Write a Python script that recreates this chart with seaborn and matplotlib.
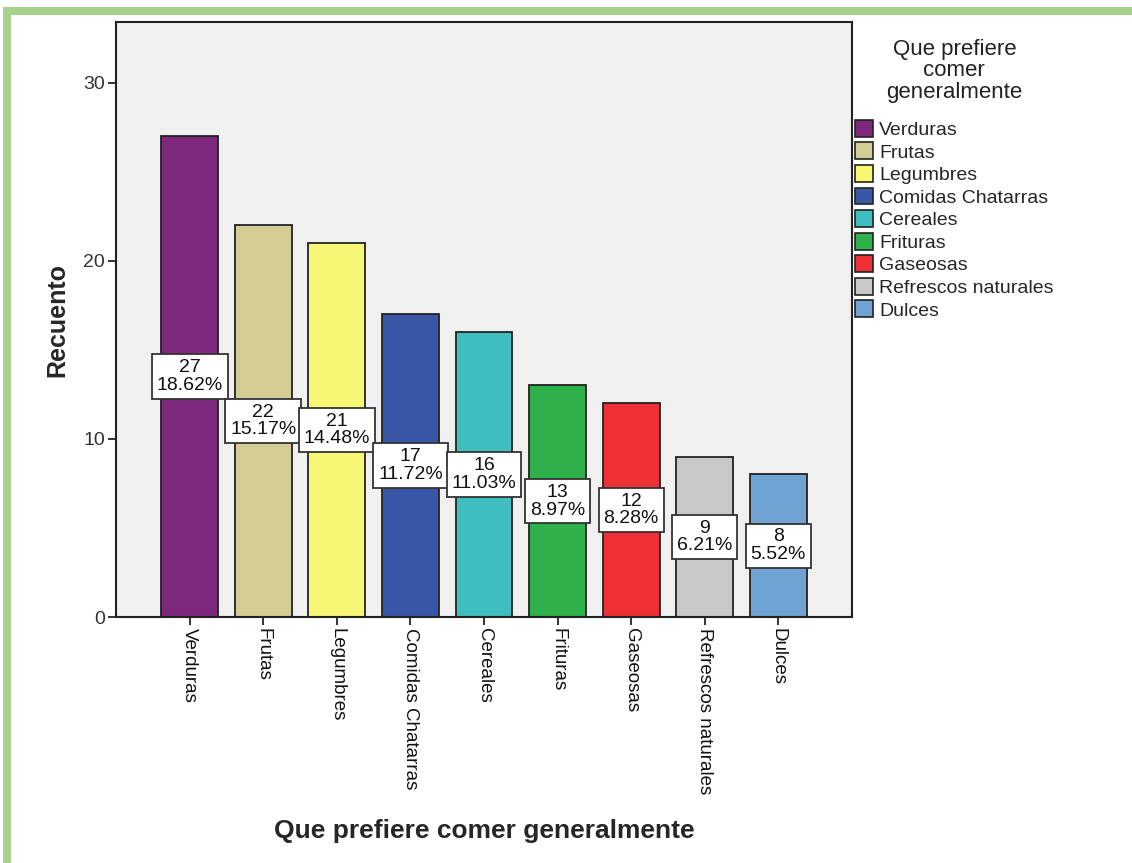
import matplotlib
matplotlib.use("Agg")
import matplotlib.pyplot as plt
from matplotlib.patches import Rectangle
import seaborn as sns
import pandas as pd

# Food preference counts
categories = ["Verduras", "Frutas", "Legumbres", "Comidas Chatarras", "Cereales",
              "Frituras", "Gaseosas", "Refrescos naturales", "Dulces"]
counts = [27, 22, 21, 17, 16, 13, 12, 9, 8]
colors = ["#7d287c", "#d3cd95", "#f8f775", "#3a56a7", "#3fbdc1",
          "#2eb04b", "#ee2f36", "#c8c8c8", "#6fa3d4"]
y_ticks = [0, 10, 20, 30]

df = pd.DataFrame({"categoria": categories, "recuento": counts})
total = sum(counts)
percents = [100.0 * c / total for c in counts]

sns.set_theme(style="white")
plt.rcParams["font.family"] = ["Liberation Sans", "DejaVu Sans"]

W, H = 1132, 863
fig = plt.figure(figsize=(W / 100, H / 100), dpi=100)
fig.patch.set_facecolor("white")

# plot box in pixel terms
L, R, T, B = 116, 852, 22, 617
ax = fig.add_axes([L / W, 1 - B / H, (R - L) / W, (B - T) / H])
ax.set_facecolor("#f0f0f0")

sns.barplot(data=df, x="categoria", y="recuento", hue="categoria",
            palette=colors, width=0.77, edgecolor="#222222", linewidth=1.3,
            legend=True, ax=ax, saturation=1)

ax.set_xlim(-1, len(categories))
ax.set_ylim(0, 33.4)
ax.set_yticks(y_ticks)
ax.set_yticklabels([str(t) for t in y_ticks], fontsize=14, color="#333333")

ax.set_xticks(range(len(categories)))
ax.set_xticklabels(categories, rotation=270, fontsize=13.5, color="#111111",
                   ha="center", va="top")

ax.tick_params(axis="both", which="major", direction="out", length=6, width=1.3,
               color="#222222", bottom=True, left=True, pad=2)

for s in ax.spines.values():
    s.set_color("#222222")
    s.set_linewidth(1.5)
    s.set_visible(True)

ax.set_ylabel("Recuento", fontsize=18, fontweight="bold", labelpad=10)
ax.set_xlabel("Que prefiere comer generalmente", fontsize=19, fontweight="bold",
              labelpad=18)

# value + percent boxes at mid-height of each bar
for i, (c, p) in enumerate(zip(counts, percents)):
    ax.text(i, c / 2, f"{c}\n{p:.2f}%", ha="center", va="center", fontsize=14,
            color="#111111", linespacing=1.05,
            bbox=dict(boxstyle="square,pad=0.25", fc="white", ec="#333333", lw=1.3),
            zorder=5)

handles, labels = ax.get_legend_handles_labels()
if ax.get_legend() is not None:
    ax.get_legend().remove()
leg = ax.legend(handles, labels, title="Que prefiere\ncomer\ngeneralmente",
                loc="upper left", bbox_to_anchor=(1.004, 0.972), borderaxespad=0,
                borderpad=0, frameon=False, fontsize=14, title_fontsize=16,
                handlelength=0.95, handleheight=0.95, handletextpad=0.3,
                labelspacing=0.18)
leg.get_title().set_linespacing(1.05)
leg.get_title().set_multialignment("center")
leg.get_title().set_color("#222222")
leg._legend_box.sep = 12
for h in leg.legend_handles:
    h.set_edgecolor("#222222")
    h.set_linewidth(1.2)

# green frame along top and left edges
green = "#a9d18e"
fig.add_artist(Rectangle((3 / W, 1 - 15 / H), 1 - 3 / W, 8 / H,
                         transform=fig.transFigure, color=green, lw=0))
fig.add_artist(Rectangle((3 / W, 0), 8 / W, 1 - 7 / H,
                         transform=fig.transFigure, color=green, lw=0))

fig.savefig("out.png", dpi=100)
